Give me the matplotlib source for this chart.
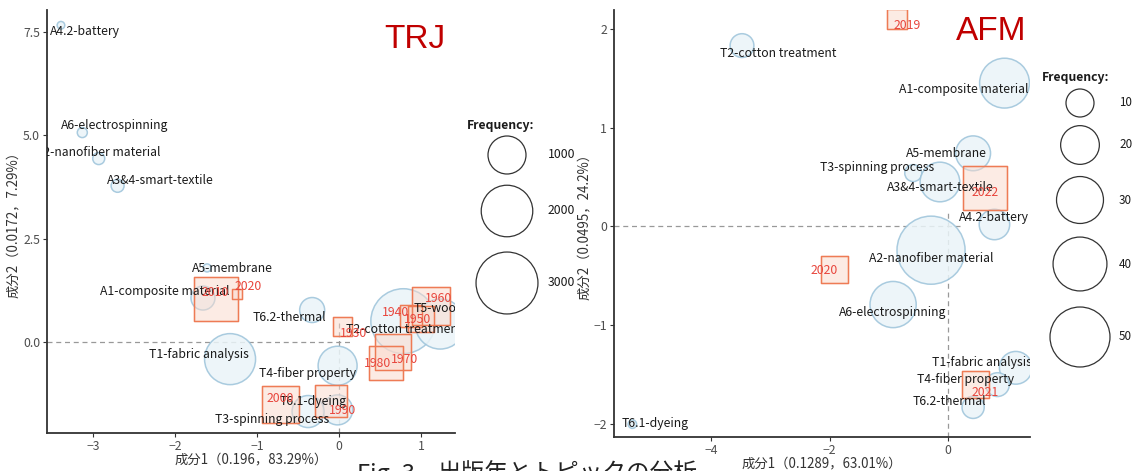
import matplotlib
matplotlib.use("Agg")
import matplotlib.pyplot as plt
import numpy as np

plt.rcParams['font.family'] = ['Noto Sans CJK JP', 'DejaVu Sans']

# TRJ: topics (bubbles)
trj_topics = ["A4.2-battery", "A6-electrospinning", "A2-nanofiber material", "A3&4-smart-textile",
              "A5-membrane", "A1-composite material", "T6.2-thermal", "T1-fabric analysis",
              "T4-fiber property", "T6.1-dyeing", "T3-spinning process", "T2-cotton treatment", "T5-wood"]
trj_topic_x = [-3.39, -3.13, -2.93, -2.70, -1.61, -1.66, -0.33, -1.33, -0.02, -0.02, -0.38, 0.78, 1.23]
trj_topic_y = [7.67, 5.07, 4.44, 3.78, 1.79, 1.06, 0.77, -0.42, -0.58, -1.65, -1.69, 0.50, 0.43]
trj_topic_freq = [5, 21, 42, 55, 7, 327, 363, 1953, 1062, 571, 667, 3320, 1870]

# TRJ: years (squares)
trj_years = ["2020", "2010", "1930", "1940", "1950", "1960", "1970", "1980", "1990", "2000"]
trj_year_x = [-1.24, -1.50, 0.04, 0.88, 1.00, 1.12, 0.65, 0.57, -0.10, -0.72]
trj_year_y = [1.16, 1.04, 0.38, 0.62, 0.55, 0.87, -0.25, -0.52, -1.44, -1.51]
trj_year_freq = [21, 1401, 175, 261, 401, 1000, 882, 770, 667, 940]

# AFM: topics
afm_topics = ["T2-cotton treatment", "A1-composite material", "A5-membrane", "T3-spinning process",
              "A3&4-smart-textile", "A4.2-battery", "A2-nanofiber material", "A6-electrospinning",
              "T1-fabric analysis", "T4-fiber property", "T6.2-thermal", "T6.1-dyeing"]
afm_topic_x = [-3.48, 0.95, 0.42, -0.59, -0.14, 0.78, -0.29, -0.93, 1.14, 0.83, 0.42, -5.33]
afm_topic_y = [1.83, 1.45, 0.74, 0.54, 0.45, 0.02, -0.24, -0.79, -1.43, -1.60, -1.83, -2.00]
afm_topic_freq = [7, 34, 16, 3.3, 21, 12, 65, 29, 14, 7, 6, 0.6]

# AFM: years
afm_years = ["2019", "2022", "2020", "2021"]
afm_year_x = [-0.86, 0.62, -1.92, 0.46]
afm_year_y = [2.10, 0.39, -0.44, -1.60]
afm_year_freq = [4.8, 26.2, 9.2, 9.2]

trj_legend = [1000, 2000, 3000]
afm_legend = [10, 20, 30, 40, 50]

# label offsets (label pos - point pos), layout only
trj_topic_lab = [(0.29, -0.15), (0.40, 0.17), (0.0, 0.15), (0.52, 0.12), (0.31, -0.02), (-0.47, 0.15),
                 (-0.28, -0.17), (-0.38, 0.12), (-0.36, -0.20), (-0.30, 0.21), (-0.44, -0.19),
                 (0.01, -0.19), (-0.02, 0.37)]
trj_year_lab = [(0.13, 0.17), (-0.01, 0.15), (0.13, -0.19), (-0.20, 0.10), (-0.05, -0.02), (0.09, 0.19),
                (0.15, -0.17), (-0.11, 0.0), (0.14, -0.22), (0.0, 0.14)]
afm_topic_lab = [(0.61, -0.08), (-0.68, -0.06), (-0.45, 0.0), (-0.61, 0.06), (0.0, -0.06), (0.0, 0.07),
                 (0.01, -0.08), (0.0, -0.08), (-0.57, 0.05), (-0.54, 0.05), (-0.40, 0.06), (0.38, 0.01)]
afm_year_lab = [(0.17, -0.07), (0.0, -0.05), (-0.17, -0.01), (0.16, -0.08)]

BLUE_FILL = "#EAF4F8"
BLUE_EDGE = "#9CC3DA"
RED_FILL = "#FBD9CB"
RED_EDGE = "#EE7B55"
RED_TEXT = "#E8453C"
TXT = "#1A1A1A"
FS = 8.8


def size_trj(f):
    r = 0.517 * np.sqrt(np.asarray(f, float)) + 2.65
    return (2 * r * 0.72) ** 2


def size_afm(f):
    r = 4.09 * np.sqrt(np.asarray(f, float)) + 1.07
    return (2 * r * 0.72) ** 2


def px_axes(fig, x0, y0, x1, y1):
    W, H = 1141, 471
    return fig.add_axes([x0 / W, (H - y1) / H, (x1 - x0) / W, (y1 - y0) / H])


def draw_panel(ax, tx, ty, tf, tlab, toff, yx, yy, yf, ylab, yoff, sizefn, hl_end, vl_end):
    x0, _ = ax.get_xlim()
    y0, _ = ax.get_ylim()
    ax.plot([x0, hl_end], [0, 0], color="#999999", lw=0.9, ls=(0, (4, 3)), zorder=1)
    ax.plot([0, 0], [y0, vl_end], color="#999999", lw=0.9, ls=(0, (4, 3)), zorder=1)
    ax.scatter(tx, ty, s=sizefn(tf), marker="o", facecolor=BLUE_FILL, edgecolor=BLUE_EDGE,
               linewidth=1.1, alpha=0.85, zorder=2)
    ax.scatter(yx, yy, s=sizefn(yf), marker="s", facecolor=RED_FILL, edgecolor=RED_EDGE,
               linewidth=1.0, alpha=0.5, zorder=3)
    ax.scatter(yx, yy, s=sizefn(yf), marker="s", facecolor="none", edgecolor=RED_EDGE,
               linewidth=1.0, zorder=3)
    for x, y, t, (dx, dy) in zip(tx, ty, tlab, toff):
        ax.text(x + dx, y + dy, t, ha="center", va="center", fontsize=FS, color=TXT,
                clip_on=True, zorder=5)
    for x, y, t, (dx, dy) in zip(yx, yy, ylab, yoff):
        ax.text(x + dx, y + dy, t, ha="center", va="center", fontsize=FS, color=RED_TEXT,
                clip_on=True, zorder=6)
    for s in ["top", "right"]:
        ax.spines[s].set_visible(False)
    for s in ["left", "bottom"]:
        ax.spines[s].set_color("#333333")
        ax.spines[s].set_linewidth(1.3)
    ax.tick_params(length=3, width=0.8, color="#333333", labelsize=FS, labelcolor="#4D4D4D", pad=2)
    ax.patch.set_alpha(0)


fig = plt.figure(figsize=(11.41, 4.71), dpi=100)

ax1 = px_axes(fig, 47, 10, 455, 433)
ax1.set_xlim(-3.56, 1.41)
ax1.set_ylim(-2.21, 8.04)
draw_panel(ax1, trj_topic_x, trj_topic_y, trj_topic_freq, trj_topics, trj_topic_lab,
           trj_year_x, trj_year_y, trj_year_freq, trj_years, trj_year_lab, size_trj, 0.13, 0.45)
ax1.set_xlim(-3.56, 1.41)
ax1.set_ylim(-2.21, 8.04)
ax1.set_xticks([-3, -2, -1, 0, 1])
ax1.set_yticks([0, 2.5, 5.0, 7.5])
ax1.set_yticklabels(["0.0", "2.5", "5.0", "7.5"])
ax1.set_xlabel("成分1（0.196，83.29%）", fontsize=9.6, color="#333333", labelpad=0)
ax1.set_ylabel("成分2（0.0172，7.29%）", fontsize=9.6, color="#333333", labelpad=2)

ax2 = px_axes(fig, 614, 10, 1030, 437)
ax2.set_xlim(-5.64, 1.38)
ax2.set_ylim(-2.13, 2.19)
draw_panel(ax2, afm_topic_x, afm_topic_y, afm_topic_freq, afm_topics, afm_topic_lab,
           afm_year_x, afm_year_y, afm_year_freq, afm_years, afm_year_lab, size_afm, 0.2, 0.14)
ax2.set_xlim(-5.64, 1.38)
ax2.set_ylim(-2.13, 2.19)
ax2.set_xticks([-4, -2, 0])
ax2.set_yticks([-2, -1, 0, 1, 2])
ax2.set_xlabel("成分1（0.1289，63.01%）", fontsize=9.6, color="#333333", labelpad=0)
ax2.set_ylabel("成分2（0.0495，24.2%）", fontsize=9.6, color="#333333", labelpad=2)

# overlay in pixel coordinates for legends, titles and caption
ov = fig.add_axes([0, 0, 1, 1])
ov.set_xlim(0, 1141)
ov.set_ylim(471, 0)
ov.axis("off")
ov.patch.set_alpha(0)

ov.text(415, 40, "TRJ", ha="center", va="center", fontsize=24, color="#C00000",
        family=["Liberation Sans", "DejaVu Sans"])
ov.text(991, 31, "AFM", ha="center", va="center", fontsize=24, color="#C00000",
        family=["Liberation Sans", "DejaVu Sans"])

ov.text(467, 125, "Frequency:", ha="left", va="center", fontsize=FS, fontweight="bold", color=TXT)
ov.scatter([507] * 3, [155, 211, 283], s=size_trj(trj_legend), facecolor="white",
           edgecolor="#333333", linewidth=0.9)
for yy, v in zip([155, 211, 283], trj_legend):
    ov.text(548, yy, str(v), ha="left", va="center", fontsize=FS, color=TXT)

ov.text(1042, 77, "Frequency:", ha="left", va="center", fontsize=FS, fontweight="bold", color=TXT)
ov.scatter([1080] * 5, [103, 145, 200, 264, 337], s=size_afm(afm_legend), facecolor="white",
           edgecolor="#333333", linewidth=0.9)
for yy, v in zip([103, 145, 200, 264, 337], afm_legend):
    ov.text(1119, yy, str(v), ha="left", va="center", fontsize=8.4, color=TXT)

ov.text(357, 463, "Fig. 3", ha="left", va="top", fontsize=17, color="#222222")
ov.text(437, 463, "出版年とトピックの分析", ha="left", va="top", fontsize=17, color="#222222")

fig.savefig("out.png", dpi=100)
